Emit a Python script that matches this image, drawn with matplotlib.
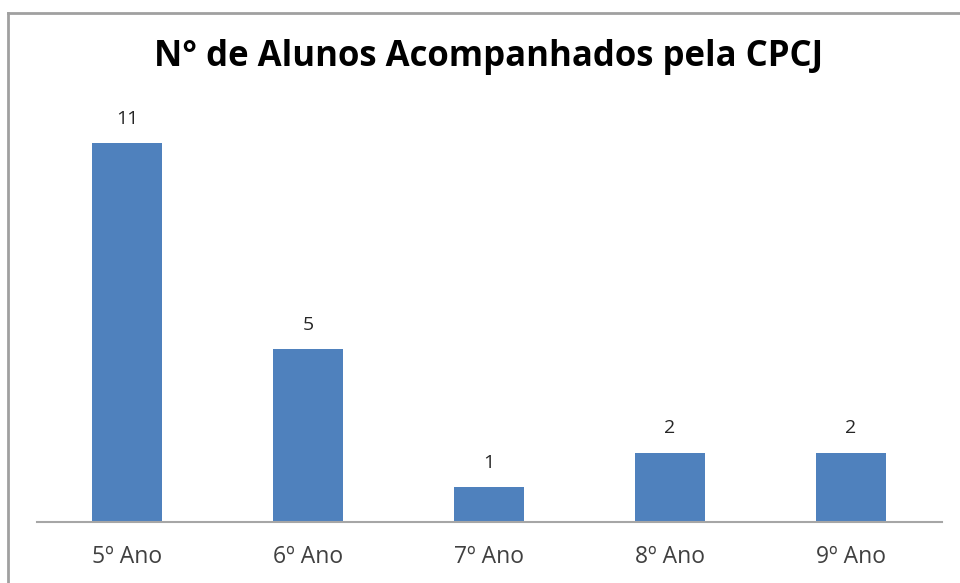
import matplotlib
matplotlib.use("Agg")
import matplotlib.pyplot as plt
from matplotlib.lines import Line2D

categories = ["5º Ano", "6º Ano", "7º Ano", "8º Ano", "9º Ano"]
values = [11, 5, 1, 2, 2]
title = "N° de Alunos Acompanhados pela CPCJ"

W, H = 960, 583
fig = plt.figure(figsize=(W / 100, H / 100), dpi=100)
fig.patch.set_facecolor("white")

# plot area in pixel coordinates
left_px, right_px = 36.5, 941.5
base_px, top_px = 521.5, 100
ax = fig.add_axes([left_px / W, (H - base_px) / H,
                   (right_px - left_px) / W, (base_px - top_px) / H])

x = range(len(categories))
bars = ax.bar(x, values, width=70 / 181, color="#4F81BD", zorder=2)
ax.set_xlim(-0.5, len(categories) - 0.5)
ax.set_ylim(0, 12.25)

for b, v in zip(bars, values):
    ax.annotate(str(v), (b.get_x() + b.get_width() / 2, v),
                xytext=(0, 11), textcoords="offset points",
                ha="center", va="bottom", fontsize=14, color="#262626",
                family="Open Sans")

ax.set_xticks(list(x))
ax.set_xticklabels(categories, fontsize=16.5, color="#404040", family="Open Sans")
ax.tick_params(axis="x", length=0, pad=17)
ax.set_yticks([])
for s in ["left", "right", "top"]:
    ax.spines[s].set_visible(False)
ax.spines["bottom"].set_color("#A6A6A6")
ax.spines["bottom"].set_linewidth(1.5)

fig.text(489 / W, 1 - 57 / H, title, ha="center", va="center",
         fontsize=25, fontweight="bold", color="black", family="Open Sans")

# outer frame (top and left edges visible)
fig.add_artist(Line2D([8 / W, 8 / W], [0, 1 - 12.5 / H], transform=fig.transFigure,
                      color="#A0A0A0", lw=2))
fig.add_artist(Line2D([8 / W, 1], [1 - 12.5 / H, 1 - 12.5 / H], transform=fig.transFigure,
                      color="#A0A0A0", lw=2))

fig.savefig("out.png", dpi=100, facecolor="white")
